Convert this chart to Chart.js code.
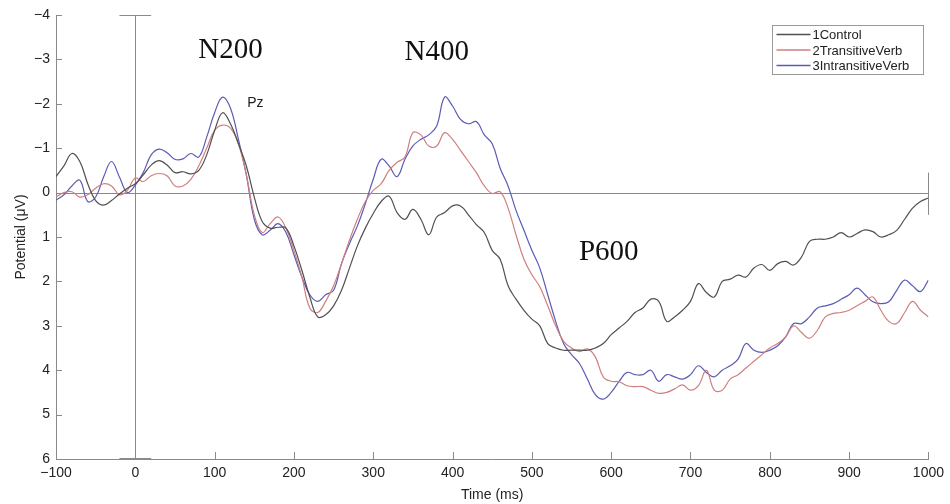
<!DOCTYPE html>
<html>
<head>
<meta charset="utf-8">
<script src="https://cdn.jsdelivr.net/npm/chart.js@4.4.1/dist/chart.umd.min.js"></script>
<style>
  html, body { margin: 0; padding: 0; background: #fff; }
  #wrap { width: 950px; height: 504px; }
</style>
</head>
<body>
<div id="wrap"><canvas id="erp" width="950" height="504"></canvas></div>
<script>
// time axis, 10 ms sampling
const times = Array.from({ length: 111 }, (_, i) => -100 + i * 10);

const control = [
  -0.36, -0.6, -0.88, -0.7, -0.2, 0.18, 0.28, 0.18, 0.03, -0.1,
  -0.2, -0.4, -0.62, -0.72, -0.62, -0.45, -0.47, -0.42, -0.5, -0.85,
  -1.4, -1.8, -1.55, -1.1, -0.6, 0.1, 0.65, 0.8, 0.78, 0.8,
  1.2, 1.75, 2.35, 2.8, 2.75, 2.55, 2.2, 1.7, 1.2, 0.8,
  0.47, 0.2, 0.08, 0.45, 0.6, 0.38, 0.6, 0.95, 0.55, 0.45,
  0.3, 0.3, 0.5, 0.72, 0.9, 1.3, 1.5, 2.1, 2.4, 2.65,
  2.85, 3.0, 3.4, 3.5, 3.55, 3.55, 3.55, 3.55, 3.5, 3.4,
  3.2, 3.05, 2.9, 2.7, 2.6, 2.4, 2.45, 2.9, 2.8, 2.65,
  2.45, 2.05, 2.25, 2.35, 2.0, 1.95, 1.86, 1.9, 1.7, 1.62,
  1.75, 1.6, 1.55, 1.63, 1.45, 1.1, 1.05, 1.05, 1.0, 0.9,
  1.0, 0.92, 0.84, 0.88, 1.0, 0.95, 0.85, 0.6, 0.35, 0.2,
  0.12
];

const transitive = [
  0.1, 0.0, -0.02, 0.1, 0.05, -0.1, -0.2, -0.15, 0.05, -0.05,
  -0.33, -0.25, -0.38, -0.43, -0.38, -0.15, -0.15, -0.3, -0.6, -1.0,
  -1.4, -1.52, -1.45, -1.1, -0.4, 0.5, 0.9, 0.7, 0.55, 0.8,
  1.3, 1.9, 2.6, 2.7, 2.45, 2.1, 1.6, 1.07, 0.6, 0.2,
  -0.05, -0.2, -0.5, -0.68, -0.8, -1.35, -1.3, -1.05, -1.05, -1.35,
  -1.2, -0.95, -0.7, -0.45, -0.15, 0.02, -0.02, 0.35, 0.95, 1.5,
  1.85, 2.12, 2.55, 3.0, 3.35, 3.5, 3.58, 3.52, 3.7, 4.15,
  4.25, 4.26, 4.35, 4.37, 4.37, 4.45, 4.52, 4.5, 4.42, 4.33,
  4.45, 4.35, 4.0, 4.45, 4.45, 4.2, 4.1, 3.95, 3.8, 3.65,
  3.5, 3.4, 3.25, 3.0, 3.15, 3.28, 3.1, 2.8, 2.72, 2.7,
  2.65, 2.55, 2.45, 2.35, 2.65, 2.9, 2.95, 2.7, 2.45, 2.65,
  2.8
];

const intransitive = [
  0.17, 0.05, -0.15, -0.28, 0.2, 0.1, -0.35, -0.7, -0.35, 0.0,
  -0.17, -0.45, -0.85, -0.98, -0.9, -0.75, -0.76, -0.88, -0.8, -1.25,
  -1.8, -2.15, -1.9, -1.2, -0.4, 0.6, 0.95, 0.85, 0.7, 0.9,
  1.4, 1.9, 2.3, 2.45, 2.3, 2.2, 1.6, 1.15, 0.75, 0.25,
  -0.3, -0.75, -0.6, -0.36, -0.75, -1.05, -1.2, -1.3, -1.5, -2.15,
  -1.95, -1.65, -1.55, -1.6, -1.3, -1.1, -0.55, -0.15, 0.4, 0.85,
  1.3, 1.7, 2.3, 2.9, 3.4, 3.65, 3.85, 4.2, 4.55, 4.65,
  4.5, 4.25, 4.05, 4.1, 4.1, 4.0, 4.25, 4.1, 4.15, 4.2,
  4.1, 3.9, 4.05, 4.15, 4.0, 3.9, 3.75, 3.4, 3.55, 3.6,
  3.55, 3.45, 3.25, 2.95, 2.95, 2.8, 2.6, 2.55, 2.5, 2.4,
  2.3, 2.15, 2.3, 2.46, 2.5, 2.46, 2.2, 1.97, 2.1, 2.23,
  1.97
];

const seriesNames = ['1Control', '2TransitiveVerb', '3IntransitiveVerb'];
const seriesColors = ['#505050', '#d07f7f', '#5b5bb5'];

// component labels placed in data coordinates
const components = [
  { text: 'N200', t: 120, v: -3.03 },
  { text: 'N400', t: 380, v: -2.99 },
  { text: 'P600', t: 597, v: 1.52 }
];

const axisColor = '#8a8a8a';
const textColor = '#222';

function fmtTick(v) {
  return v < 0 ? '\u2212' + Math.abs(v) : String(v);
}

function toPoints(vals) {
  return vals.map((v, i) => ({ x: times[i], y: v }));
}

const erpDecor = {
  id: 'erpDecor',
  beforeDatasetsDraw(chart) {
    const ctx = chart.ctx;
    const xs = chart.scales.x;
    const ys = chart.scales.y;
    const area = chart.chartArea;
    ctx.save();
    ctx.strokeStyle = axisColor;
    ctx.lineWidth = 1;

    // inner tick marks
    ctx.beginPath();
    for (let v = -4; v <= 6; v++) {
      const py = Math.round(ys.getPixelForValue(v)) + 0.5;
      ctx.moveTo(area.left, py);
      ctx.lineTo(area.left + 6, py);
    }
    for (let t = 0; t <= 1000; t += 100) {
      const px = Math.round(xs.getPixelForValue(t)) + 0.5;
      ctx.moveTo(px, area.bottom);
      ctx.lineTo(px, area.bottom - 7);
    }
    ctx.stroke();

    // stimulus onset line with caps
    const x0 = Math.round(xs.getPixelForValue(0)) + 0.5;
    const yTop = Math.round(ys.getPixelForValue(-4)) + 0.5;
    const yBot = Math.round(ys.getPixelForValue(6)) - 0.5;
    ctx.beginPath();
    ctx.moveTo(x0, yTop);
    ctx.lineTo(x0, yBot);
    ctx.moveTo(xs.getPixelForValue(-20), yTop);
    ctx.lineTo(xs.getPixelForValue(20), yTop);
    ctx.moveTo(xs.getPixelForValue(-20), yBot);
    ctx.lineTo(xs.getPixelForValue(20), yBot);
    ctx.stroke();

    // zero line with right cap
    const y0 = Math.round(ys.getPixelForValue(0)) + 0.5;
    const xEnd = Math.round(xs.getPixelForValue(1000)) + 0.5;
    ctx.beginPath();
    ctx.moveTo(area.left, y0);
    ctx.lineTo(xEnd, y0);
    ctx.moveTo(xEnd, ys.getPixelForValue(-0.45));
    ctx.lineTo(xEnd, ys.getPixelForValue(0.5));
    ctx.stroke();
    ctx.restore();
  },
  afterDatasetsDraw(chart) {
    const ctx = chart.ctx;
    const xs = chart.scales.x;
    const ys = chart.scales.y;
    ctx.save();

    // component labels
    ctx.fillStyle = '#111';
    ctx.font = '29px "Liberation Serif", "DejaVu Serif", serif';
    ctx.textAlign = 'center';
    ctx.textBaseline = 'alphabetic';
    components.forEach(c => {
      ctx.fillText(c.text, xs.getPixelForValue(c.t), ys.getPixelForValue(c.v));
    });

    // electrode name
    ctx.font = '14px "Liberation Sans", Arial, sans-serif';
    ctx.textAlign = 'left';
    ctx.textBaseline = 'middle';
    ctx.fillStyle = textColor;
    ctx.fillText('Pz', xs.getPixelForValue(141), ys.getPixelForValue(-2.02));

    // legend box
    const bx = 772.5, by = 25.5, bw = 151, bh = 49;
    ctx.fillStyle = '#fff';
    ctx.fillRect(bx, by, bw, bh);
    ctx.strokeStyle = '#9a9a9a';
    ctx.lineWidth = 1;
    ctx.strokeRect(bx, by, bw, bh);
    ctx.font = '13px "Liberation Sans", Arial, sans-serif';
    seriesNames.forEach((name, i) => {
      const ly = by + 9 + i * 15.5;
      ctx.strokeStyle = seriesColors[i];
      ctx.lineWidth = 1.4;
      ctx.beginPath();
      ctx.moveTo(bx + 4, ly);
      ctx.lineTo(bx + 38, ly);
      ctx.stroke();
      ctx.fillStyle = textColor;
      ctx.fillText(name, bx + 40, ly + 1);
    });
    ctx.restore();
  }
};

new Chart(document.getElementById('erp'), {
  type: 'line',
  data: {
    datasets: [
      { label: seriesNames[0], data: toPoints(control), borderColor: seriesColors[0] },
      { label: seriesNames[1], data: toPoints(transitive), borderColor: seriesColors[1] },
      { label: seriesNames[2], data: toPoints(intransitive), borderColor: seriesColors[2] }
    ]
  },
  options: {
    responsive: false,
    animation: false,
    layout: { padding: { top: 15, right: 19, left: 0, bottom: 0 } },
    elements: {
      point: { radius: 0 },
      line: { borderWidth: 1.2, tension: 0.4, fill: false }
    },
    plugins: {
      legend: { display: false },
      tooltip: { enabled: false }
    },
    scales: {
      x: {
        type: 'linear',
        min: -100,
        max: 1000,
        afterFit: s => { s.height = 45; },
        grid: { drawOnChartArea: false, drawTicks: false },
        border: { color: axisColor, width: 1 },
        ticks: {
          stepSize: 100,
          padding: 6,
          color: textColor,
          font: { size: 14, family: '"Liberation Sans", Arial, sans-serif' },
          callback: v => fmtTick(v)
        },
        title: {
          display: true,
          text: 'Time (ms)',
          color: textColor,
          padding: { top: 0, bottom: 0 },
          font: { size: 14, family: '"Liberation Sans", Arial, sans-serif' }
        }
      },
      y: {
        min: -4,
        max: 6,
        reverse: true,
        afterFit: s => { s.width = 56; },
        grid: { drawOnChartArea: false, drawTicks: false },
        border: { color: axisColor, width: 1 },
        ticks: {
          stepSize: 1,
          padding: 6,
          color: textColor,
          font: { size: 14, family: '"Liberation Sans", Arial, sans-serif' },
          callback: v => fmtTick(v)
        },
        title: {
          display: true,
          text: 'Potential (\u03bcV)',
          color: textColor,
          padding: { top: 13, bottom: 0 },
          font: { size: 14, family: '"Liberation Sans", Arial, sans-serif' }
        }
      }
    }
  },
  plugins: [erpDecor]
});
</script>
</body>
</html>
